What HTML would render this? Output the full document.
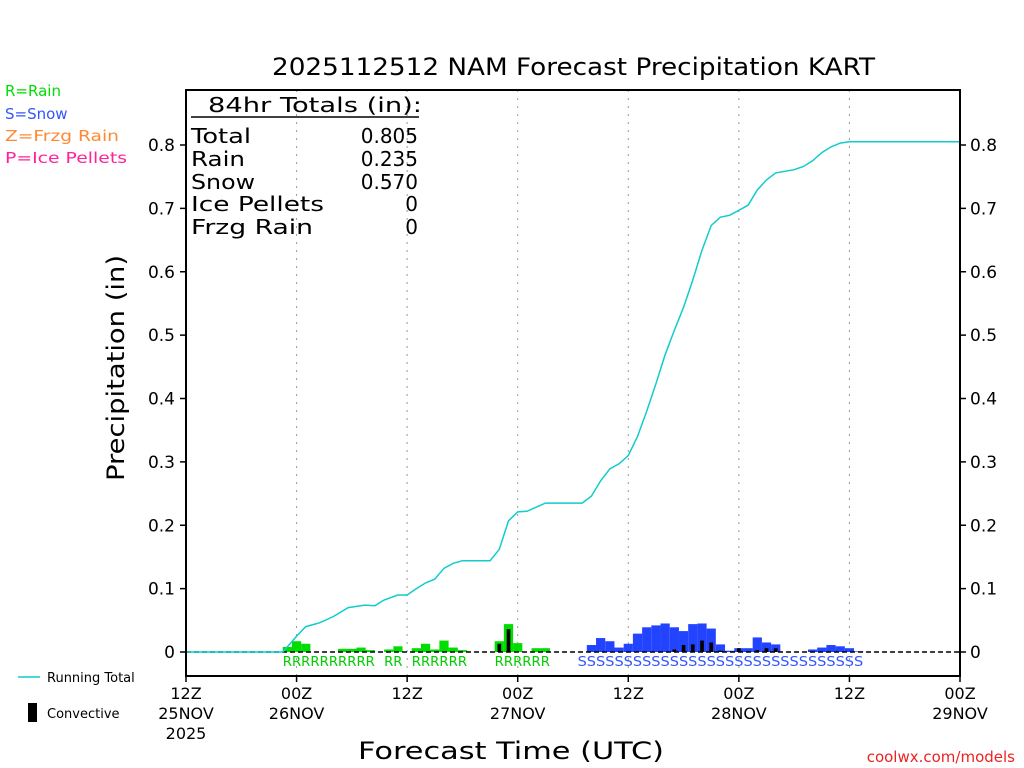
<!DOCTYPE html>
<html><head><meta charset="utf-8"><style>
html,body{margin:0;padding:0;background:#fff;width:1024px;height:768px;overflow:hidden}
svg{display:block;font-family:"DejaVu Sans","Liberation Sans",sans-serif}
</style></head><body>
<svg id="chart" width="1024" height="768" viewBox="0 0 1024 768" xmlns="http://www.w3.org/2000/svg">
<text x="272" y="75" font-size="24" fill="#000" textLength="603" lengthAdjust="spacingAndGlyphs">2025112512 NAM Forecast Precipitation KART</text>
<text x="5" y="96" font-size="15" fill="#00dd00">R=Rain</text>
<text x="5" y="119" font-size="15" fill="#3355ff">S=Snow</text>
<text x="5" y="141" font-size="15" fill="#ff8833" textLength="114" lengthAdjust="spacingAndGlyphs">Z=Frzg Rain</text>
<text x="5" y="163" font-size="15" fill="#ff2299" textLength="122" lengthAdjust="spacingAndGlyphs">P=Ice Pellets</text>
<text transform="translate(124,481) rotate(-90)" font-size="24" fill="#000" textLength="226" lengthAdjust="spacingAndGlyphs">Precipitation (in)</text>
<text x="358" y="759" font-size="24" fill="#000" textLength="306" lengthAdjust="spacingAndGlyphs">Forecast Time (UTC)</text>
<text x="1015" y="762" text-anchor="end" font-size="15" fill="#ee2222">coolwx.com/models</text>
<line x1="18" y1="677" x2="40" y2="677" stroke="#11cccc" stroke-width="1.5"/>
<text x="47" y="682" font-size="13" fill="#000">Running Total</text>
<rect x="28" y="703" width="9" height="19" fill="#000"/>
<text x="47" y="718" font-size="13" fill="#000">Convective</text>
<g id="plot"></g>
<g>
<text x="208" y="112" font-size="20" fill="#000" textLength="214" lengthAdjust="spacingAndGlyphs">84hr Totals (in):</text>
<line x1="191" y1="117" x2="419" y2="117" stroke="#000" stroke-width="1.5"/>
<g font-size="20" fill="#000">
<text x="191" y="143" textLength="60" lengthAdjust="spacingAndGlyphs">Total</text><text x="418" y="143" text-anchor="end">0.805</text>
<text x="191" y="166" textLength="54" lengthAdjust="spacingAndGlyphs">Rain</text><text x="418" y="166" text-anchor="end">0.235</text>
<text x="191" y="189" textLength="64" lengthAdjust="spacingAndGlyphs">Snow</text><text x="418" y="189" text-anchor="end">0.570</text>
<text x="191" y="211" textLength="133" lengthAdjust="spacingAndGlyphs">Ice Pellets</text><text x="418" y="211" text-anchor="end">0</text>
<text x="191" y="234" textLength="122" lengthAdjust="spacingAndGlyphs">Frzg Rain</text><text x="418" y="234" text-anchor="end">0</text>
</g></g>
</svg>
<script>
const rainHours=[11,12,13,17,18,19,20,22,23,25,26,27,28,29,30,34,35,36,38,39];
const rainVals=[0.008,0.017,0.013,0.005,0.005,0.007,0.003,0.004,0.009,0.006,0.013,0.004,0.018,0.007,0.003,0.017,0.044,0.014,0.006,0.006];
const snowHours=[44,45,46,47,48,49,50,51,52,53,54,55,56,57,58,59,60,61,62,63,64,68,69,70,71,72,73];
const snowVals=[0.011,0.022,0.017,0.007,0.013,0.029,0.039,0.042,0.045,0.039,0.033,0.044,0.045,0.037,0.012,0.002,0.006,0.006,0.023,0.015,0.012,0.004,0.007,0.011,0.009,0.006,0.001];
const convHours=[34,35,53,54,55,56,57,58,60,61,62,63,64];
const convVals=[0.013,0.036,0.004,0.011,0.012,0.018,0.015,0.002,0.006,0.001,0.003,0.006,0.006];
const totalHours=[0,10.5,12,13,14.5,16,17.6,19.4,20.5,21.5,23,24,25,26,27,28,29,30,33,34,35,36,37,39,43,44,45,46,47,48,49,50,51,52,53,54,55,56,57,58,59,60,61,62,63,64,66,67,68,69,70,71,72,84];
const totalVals=[0,0,0.025,0.04,0.046,0.056,0.07,0.074,0.073,0.082,0.09,0.09,0.1,0.109,0.115,0.132,0.14,0.144,0.144,0.162,0.207,0.221,0.222,0.235,0.235,0.246,0.27,0.289,0.297,0.31,0.34,0.38,0.423,0.469,0.508,0.544,0.587,0.634,0.673,0.686,0.689,0.697,0.705,0.729,0.745,0.756,0.761,0.766,0.775,0.788,0.797,0.803,0.805,0.805];
const yTicks=[0,0.1,0.2,0.3,0.4,0.5,0.6,0.7,0.8];
const yTickLabels=["0","0.1","0.2","0.3","0.4","0.5","0.6","0.7","0.8"];
const xTickHours=[0,12,24,36,48,60,72,84];
const xTickTime=["12Z","00Z","12Z","00Z","12Z","00Z","12Z","00Z"];
const xTickDate=["25NOV","26NOV","","27NOV","","28NOV","","29NOV"];
const rainLabels=[[11,20,"RRRRRRRRRR"],[22,23,"RR"],[25,30,"RRRRRR"],[34,39,"RRRRRR"]];
const snowLabels=[[43,73,"SSSSSSSSSSSSSSSSSSSSSSSSSSSSSSS"]];

const L=186,R=960,T=90,B=676,Y0=652,Y08=145;
const xs=h=>L+(R-L)*h/84;
const ys=v=>Y0-(Y0-Y08)*v/0.8;
const NS="http://www.w3.org/2000/svg";
const g=document.getElementById('plot');
function mk(tag,attrs,parent){const e=document.createElementNS(NS,tag);for(const k in attrs)e.setAttribute(k,attrs[k]);(parent||g).appendChild(e);return e;}
const bw=(R-L)/84;
xTickHours.forEach((h,i)=>{if(i>0&&i<xTickHours.length-1){const e=mk('line',{x1:xs(h),x2:xs(h),y1:T,y2:B,stroke:'#999','stroke-dasharray':'2,6','stroke-width':1});

}});
function bars(hours,vals,color,name,w){hours.forEach((h,i)=>{const y=ys(vals[i]);const e=mk('rect',{x:xs(h)-w/2,y:y,width:w,height:Y0-y,fill:color});

});}
bars(rainHours,rainVals,'#00dd00','rain-bar',bw);
bars(snowHours,snowVals,'#2244ff','snow-bar',bw);
bars(convHours,convVals,'#000','convective-bar',bw*0.4);
const zl=mk('line',{x1:L,x2:R,y1:Y0,y2:Y0,stroke:'#000','stroke-dasharray':'5,3','stroke-width':1.5});


let d=totalHours.map((h,i)=>(i?'L':'M')+xs(h).toFixed(1)+','+ys(totalVals[i]).toFixed(1)).join(' ');
const ln=mk('path',{d:d,fill:'none',stroke:'#11cccc','stroke-width':1.5});


rainLabels.forEach(r=>{const x1=xs(r[0])-bw/2,x2=xs(r[1])+bw/2;const t=mk('text',{x:x1,y:666,'font-size':13,fill:'#00cc00',textLength:x2-x1,lengthAdjust:'spacingAndGlyphs'});t.textContent=r[2];

});
snowLabels.forEach(r=>{const x1=xs(r[0])-bw/2,x2=xs(r[1])+bw/2;const t=mk('text',{x:x1,y:666,'font-size':13,fill:'#3355ff',textLength:x2-x1,lengthAdjust:'spacingAndGlyphs'});t.textContent=r[2];

});
const fr=mk('rect',{x:L,y:T,width:R-L,height:B-T,fill:'none',stroke:'#000','stroke-width':2});


yTicks.forEach((v,i)=>{const y=ys(v);
mk('line',{x1:L-6,x2:L,y1:y,y2:y,stroke:'#000','stroke-width':1.5});
mk('line',{x1:R,x2:R+6,y1:y,y2:y,stroke:'#000','stroke-width':1.5});
const a=mk('text',{x:175,y:y+6,'text-anchor':'end','font-size':17,fill:'#000'});a.textContent=yTickLabels[i];


const b=mk('text',{x:970,y:y+6,'font-size':17,fill:'#000'});b.textContent=yTickLabels[i];

});
xTickHours.forEach((h,i)=>{const x=xs(h);
mk('line',{x1:x,x2:x,y1:B,y2:B+6,stroke:'#000','stroke-width':1.5});
const a=mk('text',{x:x,y:699,'text-anchor':'middle','font-size':16,fill:'#000'});a.textContent=xTickTime[i];


if(xTickDate[i]){const b=mk('text',{x:x,y:719,'text-anchor':'middle','font-size':16,fill:'#000'});b.textContent=xTickDate[i];

}});
const yr=mk('text',{x:xs(0),y:739,'text-anchor':'middle','font-size':16,fill:'#000'});yr.textContent='2025';


</script>
</body></html>
